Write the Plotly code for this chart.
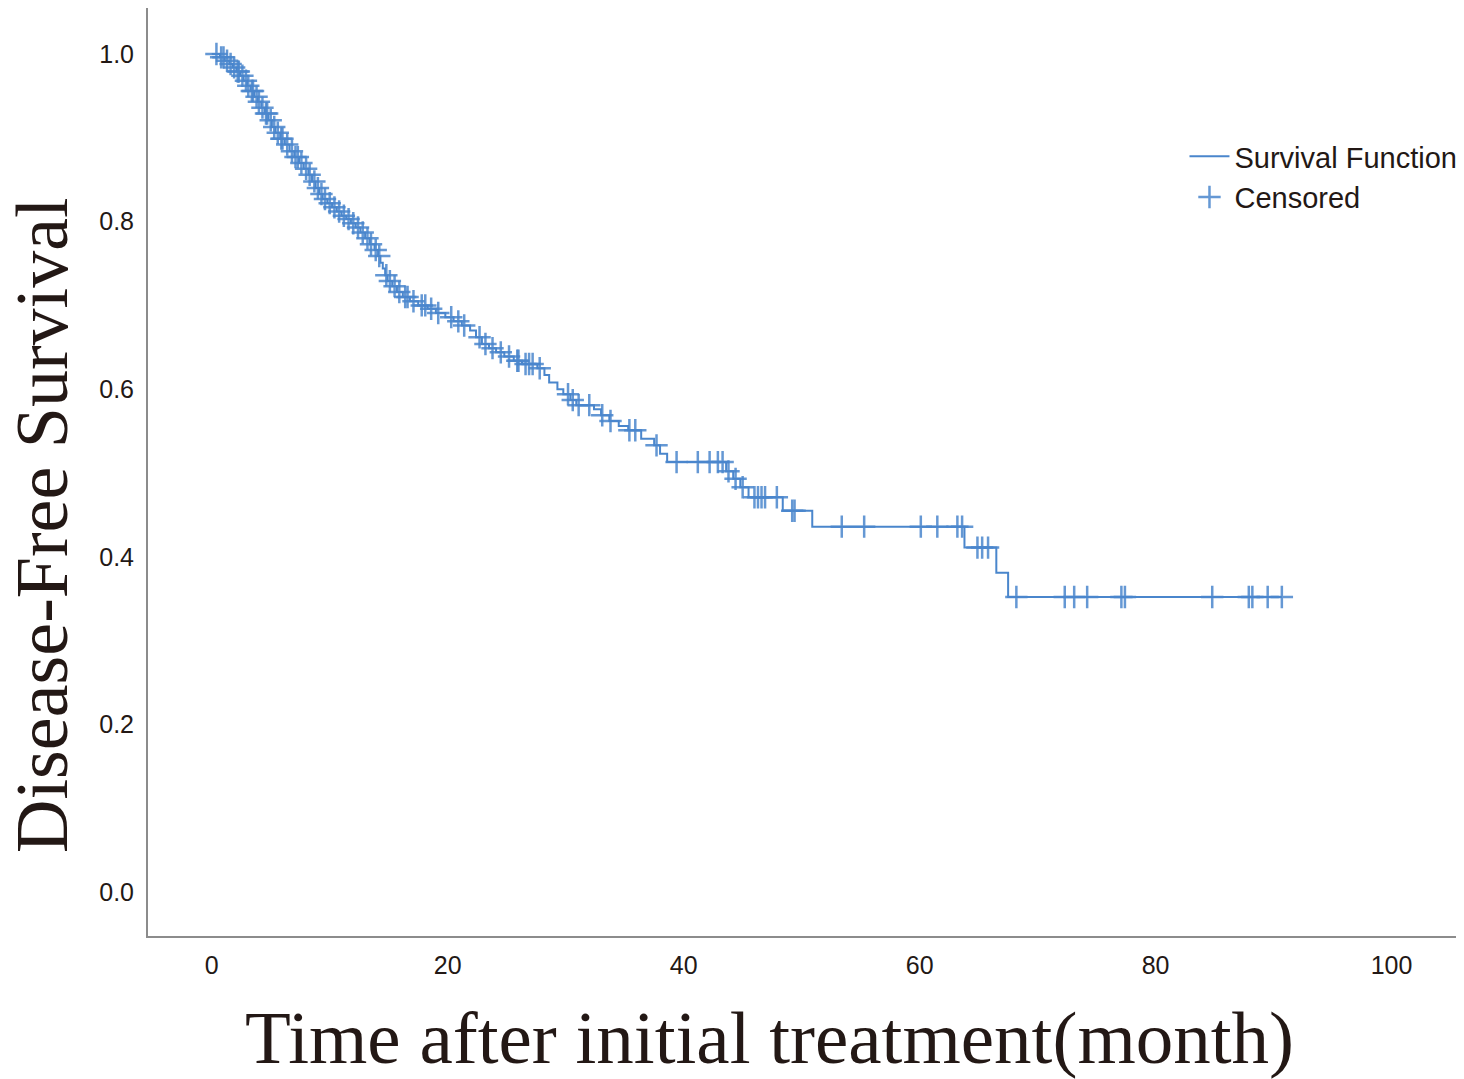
import numpy as np
import plotly.graph_objects as go

# Kaplan-Meier estimate: event times (months) and survival after each event
event_time = [0.7, 1.1, 1.5, 1.8, 2.1, 2.4, 2.7, 3.0, 3.3, 3.6, 3.9, 4.2, 4.5, 4.8, 5.1,
              5.4, 5.8, 6.2, 6.6, 7.0, 7.4, 7.8, 8.2, 8.5, 8.8, 9.1, 9.4, 9.8, 10.2, 10.6,
              11.0, 11.4, 11.8, 12.2, 12.6, 13.0, 13.4, 13.8, 14.1, 14.3, 14.5, 14.7, 14.9,
              15.3, 15.7, 16.2, 16.8, 17.5, 18.3, 19.0, 19.8, 20.5, 21.2, 21.9, 22.4, 22.9,
              23.5, 24.1, 24.8, 25.6, 26.3, 27.6, 28.2, 28.6, 29.3, 29.8, 30.4, 30.9, 32.4,
              33.0, 33.7, 34.5, 35.3, 36.4, 37.5, 38.0, 38.6, 43.6, 44.2, 44.8, 45.5, 48.4,
              50.9, 63.8, 66.5, 67.5]
survival = [0.996, 0.992, 0.988, 0.984, 0.979, 0.974, 0.968, 0.962, 0.956, 0.949, 0.943,
            0.936, 0.929, 0.921, 0.913, 0.906, 0.899, 0.892, 0.884, 0.877, 0.870, 0.863,
            0.856, 0.848, 0.840, 0.833, 0.827, 0.822, 0.817, 0.812, 0.807, 0.803, 0.798,
            0.793, 0.787, 0.780, 0.773, 0.766, 0.759, 0.751, 0.744, 0.736, 0.729, 0.723,
            0.716, 0.710, 0.705, 0.700, 0.696, 0.691, 0.686, 0.681, 0.676, 0.670, 0.662,
            0.654, 0.649, 0.644, 0.639, 0.634, 0.630, 0.625, 0.617, 0.608, 0.600, 0.594,
            0.587, 0.581, 0.576, 0.569, 0.562, 0.556, 0.551, 0.541, 0.533, 0.523, 0.513,
            0.502, 0.493, 0.483, 0.471, 0.455, 0.436, 0.411, 0.381, 0.352]

# censored observations (months)
censor_time = [0.4, 0.8, 1.0, 1.3, 1.6, 1.9, 2.2, 2.3, 2.6, 2.9, 3.1, 3.4, 3.5, 3.8, 4.0,
               4.3, 4.6, 4.7, 5.0, 5.3, 5.6, 5.9, 6.0, 6.4, 6.8, 7.1, 7.3, 7.6, 8.0, 8.3,
               8.7, 9.0, 9.3, 9.6, 10.0, 10.4, 10.8, 11.2, 11.6, 12.0, 12.4, 12.8, 13.2,
               13.5, 13.9, 14.2, 14.8, 15.1, 15.5, 15.9, 16.4, 16.6, 17.1, 17.8, 18.1, 18.6,
               19.2, 20.3, 20.9, 21.4, 22.7, 23.2, 23.8, 24.5, 25.2, 25.9, 26.0, 26.6, 26.9,
               27.2, 27.8, 30.2, 30.6, 31.1, 32.0, 33.1, 33.8, 35.4, 35.9, 37.7, 39.4, 41.2,
               42.2, 42.9, 43.3, 43.8, 44.4, 45.0, 46.0, 46.3, 46.6, 46.9, 47.9, 49.2, 49.4,
               53.4, 55.3, 60.1, 61.5, 63.2, 63.6, 64.9, 65.3, 65.8, 68.2, 72.3, 73.1, 74.2,
               77.1, 77.4, 84.8, 87.9, 88.2, 89.5, 90.7]

x_ticks = [0, 20, 40, 60, 80, 100]
y_ticks = [0.0, 0.2, 0.4, 0.6, 0.8, 1.0]

BLUE = '#4a86cc'
INK = '#231815'

# step curve runs from time 0 to the last follow-up
ev_t = np.array(event_time)
ev_s = np.array(survival)
step_x = np.concatenate(([0.0], ev_t, [max(censor_time)]))
step_y = np.concatenate(([1.0], ev_s, [ev_s[-1]]))

# survival level at each censored time
c_t = np.array(censor_time)
idx = np.searchsorted(ev_t, c_t, side='right')
c_s = np.where(idx == 0, 1.0, ev_s[np.maximum(idx - 1, 0)])

fig = go.Figure()
fig.add_trace(go.Scatter(x=step_x, y=step_y, mode='lines', line_shape='hv',
                         line=dict(color=BLUE, width=2),
                         name='Survival Function'))
fig.add_trace(go.Scatter(x=c_t, y=c_s, mode='markers',
                         marker=dict(symbol='cross-thin', size=16,
                                     color='rgba(74,134,204,0.85)',
                                     line=dict(color='rgba(74,134,204,0.85)', width=2.5)),
                         name='Censored'))

# page body adds an 8px margin, so the figure is 8px smaller on each side
fig.update_layout(
    width=1456, height=1071,
    margin=dict(l=140, r=4, t=0, b=143),
    paper_bgcolor='white', plot_bgcolor='white',
    showlegend=True,
    legend=dict(x=0.790, y=0.8675, xanchor='left', yanchor='top',
                font=dict(family='Liberation Sans, Arial', size=29, color=INK),
                bgcolor='rgba(0,0,0,0)', tracegroupgap=0, itemwidth=40),
    annotations=[
        dict(text='Time after initial treatment(month)', xref='paper', yref='paper',
             x=0.474, y=-0.1099, xanchor='center', yanchor='middle', showarrow=False,
             font=dict(family='Liberation Serif, Times New Roman', size=75, color=INK)),
        dict(text='Disease-Free Survival', xref='paper', yref='paper',
             x=-0.0808, y=0.4429, xanchor='center', yanchor='middle', showarrow=False,
             textangle=-90,
             font=dict(family='Liberation Serif, Times New Roman', size=74, color=INK)),
    ],
)
fig.update_xaxes(range=[-5.4, 105.8], tickvals=x_ticks, ticktext=[str(v) for v in x_ticks],
                 showgrid=False, zeroline=False, showline=True, linecolor='#8c8c8c', linewidth=2,
                 ticks='outside', ticklen=6, tickcolor='rgba(0,0,0,0)',
                 tickfont=dict(family='Liberation Sans, Arial', size=25, color=INK))
fig.update_yaxes(range=[-0.0525, 1.0549], tickvals=y_ticks, ticktext=['%.1f' % v for v in y_ticks],
                 showgrid=False, zeroline=False, showline=True, linecolor='#8c8c8c', linewidth=2,
                 ticks='outside', ticklen=7, tickcolor='rgba(0,0,0,0)',
                 tickfont=dict(family='Liberation Sans, Arial', size=25, color=INK))

fig.write_html("out.html")
